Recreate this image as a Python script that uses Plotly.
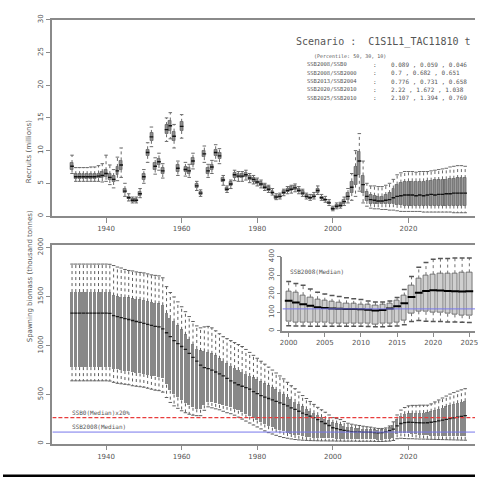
import plotly.graph_objects as go

# ---------------------------------------------------------------------------
# Data: stock assessment / projection boxplot summaries, 1931-2035
# ---------------------------------------------------------------------------
years = list(range(1931, 2036))

# Recruits (millions): median, quartiles and whisker ends per year
rec_med = [7.6, 6.0, 6.0, 6.0, 6.0, 6.0, 6.0, 6.1, 6.2, 6.5,
           5.9, 5.6, 6.9, 7.8, 3.8, 2.8, 2.4, 2.4, 3.4, 6.0,
           9.7, 12.1, 7.6, 8.3, 6.9, 13.2, 13.8, 12.2, 7.3, 13.7,
           7.1, 6.9, 8.4, 4.6, 3.5, 9.5, 6.9, 7.5, 9.7, 9.2,
           5.5, 4.1, 4.9, 6.3, 6.1, 6.1, 6.3, 5.8, 5.6, 5.2,
           4.9, 4.4, 4.1, 3.6, 2.9, 3.0, 3.6, 3.9, 4.1, 4.3,
           3.9, 3.5, 3.0, 2.8, 3.0, 3.9, 2.8, 2.5, 2.0, 1.1,
           1.5, 1.6, 2.2, 3.0, 4.4, 6.2, 8.4, 4.8, 3.0, 2.5,
           2.4, 2.3, 2.3, 2.4, 2.5, 2.8, 3.0, 3.1, 3.2, 3.2,
           3.2, 3.1, 3.2, 3.1, 3.2, 3.3, 3.2, 3.3, 3.3, 3.4,
           3.4, 3.5, 3.5, 3.5, 3.5]
rec_q1 = [7.1, 5.7, 5.7, 5.7, 5.7, 5.7, 5.7, 5.8, 5.8, 6.0,
          5.5, 5.2, 6.3, 7.1, 3.5, 2.6, 2.2, 2.2, 3.1, 5.6,
          9.2, 11.5, 7.1, 7.8, 6.4, 12.5, 13.0, 11.5, 6.8, 13.0,
          6.7, 6.5, 7.9, 4.3, 3.3, 9.0, 6.5, 7.1, 9.2, 8.7,
          5.2, 3.9, 4.6, 5.9, 5.8, 5.8, 6.0, 5.5, 5.3, 4.9,
          4.6, 4.2, 3.9, 3.4, 2.7, 2.8, 3.4, 3.7, 3.8, 4.0,
          3.7, 3.3, 2.8, 2.6, 2.8, 3.6, 2.6, 2.3, 1.8, 1.0,
          1.3, 1.4, 1.9, 2.5, 3.5, 4.8, 6.3, 3.5, 2.3, 1.9,
          1.8, 1.8, 1.8, 1.8, 1.8, 1.8, 1.7, 1.7, 1.6, 1.6,
          1.6, 1.6, 1.6, 1.6, 1.6, 1.6, 1.6, 1.6, 1.6, 1.6,
          1.6, 1.6, 1.6, 1.6, 1.6]
rec_q3 = [8.1, 6.4, 6.4, 6.4, 6.4, 6.4, 6.4, 6.5, 6.7, 7.0,
          6.4, 6.1, 7.5, 8.5, 4.1, 3.0, 2.6, 2.6, 3.7, 6.4,
          10.2, 12.7, 8.1, 8.8, 7.4, 13.9, 14.6, 12.9, 7.8, 14.4,
          7.5, 7.3, 8.9, 4.9, 3.7, 10.0, 7.3, 7.9, 10.2, 9.7,
          5.8, 4.3, 5.2, 6.6, 6.4, 6.4, 6.6, 6.1, 5.9, 5.5,
          5.2, 4.7, 4.4, 3.9, 3.1, 3.2, 3.8, 4.2, 4.4, 4.6,
          4.2, 3.8, 3.2, 3.0, 3.3, 4.2, 3.0, 2.7, 2.2, 1.3,
          1.7, 1.8, 2.5, 3.5, 5.3, 7.6, 9.8, 6.2, 3.7, 3.2,
          3.1, 3.0, 3.0, 3.2, 3.5, 4.2, 4.8, 5.1, 5.2, 5.3,
          5.3, 5.3, 5.3, 5.3, 5.4, 5.4, 5.5, 5.5, 5.6, 5.6,
          5.7, 5.7, 5.8, 5.8, 5.8]
rec_lo = [6.5, 5.3, 5.3, 5.3, 5.3, 5.3, 5.3, 5.3, 5.2, 5.3,
          4.8, 4.3, 5.4, 5.9, 3.0, 2.3, 2.0, 2.0, 2.8, 5.0,
          8.2, 10.6, 6.4, 7.0, 5.8, 11.4, 11.8, 10.4, 6.2, 11.9,
          6.1, 5.9, 7.2, 3.9, 3.0, 8.2, 5.9, 6.5, 8.4, 8.0,
          4.7, 3.6, 4.2, 5.4, 5.3, 5.3, 5.5, 5.1, 4.9, 4.6,
          4.3, 3.9, 3.6, 3.2, 2.5, 2.6, 3.1, 3.4, 3.5, 3.7,
          3.4, 3.0, 2.6, 2.4, 2.6, 3.3, 2.4, 2.1, 1.6, 0.8,
          1.1, 1.2, 1.6, 2.0, 2.4, 3.0, 3.8, 2.0, 1.5, 1.2,
          1.1, 1.1, 1.0, 1.0, 0.9, 0.9, 0.8, 0.7, 0.7, 0.7,
          0.7, 0.7, 0.7, 0.6, 0.6, 0.6, 0.6, 0.6, 0.6, 0.6,
          0.6, 0.5, 0.5, 0.5, 0.5]
rec_hi = [9.3, 7.4, 7.4, 7.4, 7.4, 7.5, 7.5, 7.7, 8.0, 9.3,
          7.8, 7.1, 9.0, 10.4, 5.0, 3.4, 2.9, 2.9, 4.2, 7.1,
          11.2, 13.6, 8.9, 9.6, 8.0, 15.0, 15.8, 14.0, 8.4, 15.5,
          8.2, 7.9, 9.6, 5.3, 4.0, 10.7, 7.9, 8.5, 10.9, 10.3,
          6.2, 4.6, 5.5, 7.0, 6.8, 6.8, 7.0, 6.5, 6.2, 5.8,
          5.5, 5.0, 4.7, 4.2, 3.4, 3.5, 4.1, 4.5, 4.7, 4.9,
          4.5, 4.1, 3.5, 3.3, 3.6, 4.6, 3.3, 3.0, 2.5, 1.5,
          2.0, 2.1, 2.9, 4.2, 6.5, 10.0, 12.6, 8.4, 5.0, 4.6,
          4.6, 4.5, 4.5, 4.7, 5.0, 5.6, 6.3, 6.6, 6.8, 6.8,
          6.8, 6.7, 6.8, 6.8, 6.8, 6.9, 7.0, 7.1, 7.2, 7.3,
          7.5, 7.6, 7.7, 7.7, 7.6]

# Spawning biomass (thousand tonnes)
ssb_med = [1330, 1330, 1330, 1330, 1330, 1330, 1330, 1330, 1330, 1330,
           1328, 1305, 1295, 1285, 1275, 1265, 1255, 1245, 1235, 1225,
           1215, 1205, 1195, 1190, 1170, 1130, 1090, 1050, 1020, 990,
           960, 920, 880, 840, 800, 775, 765, 750, 730, 710,
           690, 665, 640, 620, 600, 585, 570, 555, 530, 510,
           490, 475, 460, 445, 430, 415, 400, 385, 365, 350,
           330, 310, 295, 280, 265, 245, 225, 205, 185, 162,
           152, 143, 135, 127, 123, 120, 119, 118, 117, 116,
           113, 110, 112, 120, 132, 148, 182, 205, 215, 218,
           217, 215, 213, 212, 213, 218, 225, 232, 240, 248,
           256, 263, 270, 278, 285]
ssb_q1 = [780, 780, 780, 780, 780, 780, 780, 780, 780, 780,
          778, 760, 755, 750, 740, 735, 725, 720, 715, 710,
          700, 690, 680, 675, 660, 600, 540, 500, 470, 440,
          410, 385, 365, 350, 345, 390, 420, 415, 405, 395,
          385, 375, 365, 350, 335, 315, 295, 275, 255, 235,
          215, 195, 178, 162, 148, 134, 120, 108, 98, 88,
          80, 72, 66, 61, 57, 54, 51, 50, 49, 48,
          46, 45, 44, 43, 42, 41, 40, 40, 39, 39,
          38, 36, 37, 40, 45, 56, 95, 105, 102, 100,
          98, 92, 88, 84, 80, 78, 76, 75, 74, 73,
          72, 72, 71, 71, 70]
ssb_q3 = [1545, 1545, 1545, 1545, 1545, 1545, 1545, 1545, 1545, 1545,
          1542, 1510, 1500, 1495, 1490, 1485, 1475, 1470, 1465, 1460,
          1450, 1440, 1430, 1425, 1410, 1330, 1280, 1245, 1200, 1160,
          1110, 1060, 1010, 965, 945, 940, 930, 915, 895, 865,
          840, 815, 790, 770, 750, 730, 710, 690, 670, 650,
          630, 610, 590, 570, 548, 525, 500, 475, 450, 425,
          400, 375, 350, 330, 310, 290, 270, 250, 232, 213,
          205, 192, 180, 170, 162, 156, 152, 148, 145, 142,
          140, 138, 140, 148, 165, 190, 245, 282, 300, 305,
          308, 308, 310, 312, 315, 325, 338, 350, 362, 375,
          388, 400, 412, 422, 432]
ssb_lo = [640, 640, 640, 640, 640, 640, 640, 640, 640, 640,
          638, 625, 615, 610, 605, 600, 590, 585, 580, 575,
          565, 555, 545, 540, 525, 470, 420, 385, 360, 335,
          315, 300, 290, 285, 285, 340, 375, 365, 355, 345,
          330, 315, 305, 290, 270, 250, 230, 210, 190, 170,
          150, 130, 112, 98, 85, 72, 62, 55, 48, 42,
          38, 35, 33, 31, 30, 29, 28, 28, 27, 27,
          26, 26, 25, 25, 25, 25, 24, 24, 24, 24,
          23, 22, 22, 24, 26, 32, 50, 55, 52, 50,
          50, 48, 47, 46, 45, 44, 43, 42, 41, 40,
          39, 38, 37, 36, 35]
ssb_hi = [1830, 1830, 1830, 1830, 1830, 1830, 1830, 1830, 1830, 1830,
          1828, 1815, 1800, 1790, 1775, 1765, 1760, 1750, 1745, 1740,
          1730, 1720, 1715, 1710, 1690, 1600, 1540, 1495, 1445, 1395,
          1345, 1295, 1245, 1200, 1180, 1190, 1195, 1180, 1150, 1120,
          1090, 1070, 1050, 1030, 1010, 990, 960, 930, 900, 870,
          840, 810, 780, 750, 720, 690, 660, 625, 590, 560,
          525, 490, 460, 430, 400, 370, 345, 320, 292, 265,
          255, 245, 225, 208, 198, 190, 185, 178, 172, 168,
          160, 155, 155, 160, 180, 222, 292, 342, 368, 385,
          390, 390, 392, 392, 392, 405, 425, 445, 465, 485,
          505, 520, 535, 548, 560]

x_ticks = [1940, 1960, 1980, 2000, 2020]
rec_ticks = [0, 5, 10, 15, 20, 25, 30]
ssb_ticks = [0, 500, 1000, 1500, 2000]
inset_years = (2000, 2025)
inset_xticks = [2000, 2005, 2010, 2015, 2020, 2025]
inset_yticks = [0, 100, 200, 300, 400]

scenario = "Scenario :  C1S1L1_TAC11810 t"
percentile_note = "(Percentile: 50, 30, 10)"
ratio_labels = ["SSB2008/SSB0", "SSB2008/SSB2000", "SSB2013/SSB2004",
                "SSB2020/SSB2010", "SSB2025/SSB2010"]
ratio_values = ["0.089 , 0.059 , 0.046", "0.7 , 0.682 , 0.651",
                "0.776 , 0.731 , 0.658", "2.22 , 1.672 , 1.038",
                "2.107 , 1.394 , 0.769"]

# Reference levels derived from the medians
ssb0 = ssb_med[0]
limit_ref = ssb0 * 0.20
ssb2008 = ssb_med[years.index(2008)]

# ---------------------------------------------------------------------------
# Page geometry (pixels on a 478 x 478 canvas)
# ---------------------------------------------------------------------------
W = H = 478
def fx(px):
    return px / W
def fy(py):
    return 1 - py / H

PLOT_L = 50
TOP_T, TOP_B = 12, 212
BOT_T, BOT_B = 242, 444
INS_L, INS_T, INS_B = 283, 253.3, 329
x_range = [1925.8, 2037.6]
ssb_range = [0, 2020]
ins_xrange = [1999.14, 2025.78]
ins_yrange = [0, 400]

AX_COL = "#8a8a8a"
TXT_COL = "#555555"
FONT = "DejaVu Sans"
MONO = "DejaVu Sans Mono"
RED = "#e83c3c"
BLUE = "#7878eb"

fig = go.Figure()


def add_boxes(xs, q1, med, q3, lo, hi, xa, ya, width, fill, outline, ow,
              wcol, med_size, med_w, med_col, staple_size, staple_w, staple_col):
    fig.add_trace(go.Bar(
        x=xs, y=[b - a for a, b in zip(q1, q3)], base=q1, width=width,
        marker=dict(color=fill, line=dict(color=outline, width=ow)),
        xaxis=xa, yaxis=ya, showlegend=False, hoverinfo="skip"))
    wx, wy = [], []
    for x, a, b, l, h in zip(xs, q1, q3, lo, hi):
        wx += [x, x, None, x, x, None]
        wy += [b, h, None, a, l, None]
    fig.add_trace(go.Scatter(
        x=wx, y=wy, mode="lines",
        line=dict(color=wcol, width=1, dash="dot"),
        xaxis=xa, yaxis=ya, showlegend=False, hoverinfo="skip"))
    fig.add_trace(go.Scatter(
        x=list(xs) + list(xs), y=list(hi) + list(lo), mode="markers",
        marker=dict(symbol="line-ew", size=staple_size,
                    line=dict(width=staple_w, color=staple_col)),
        xaxis=xa, yaxis=ya, showlegend=False, hoverinfo="skip"))
    fig.add_trace(go.Scatter(
        x=xs, y=med, mode="markers",
        marker=dict(symbol="line-ew", size=med_size,
                    line=dict(width=med_w, color=med_col)),
        xaxis=xa, yaxis=ya, showlegend=False, hoverinfo="skip"))


# Recruits panel
add_boxes(years, rec_q1, rec_med, rec_q3, rec_lo, rec_hi, "x", "y",
          0.78, "#8d8d8d", "#4a4a4a", 0.6, "#6a6a6a",
          2.6, 1.4, "#111111", 2.5, 1, "#6a6a6a")

# Spawning biomass panel
add_boxes(years, ssb_q1, ssb_med, ssb_q3, ssb_lo, ssb_hi, "x2", "y2",
          0.8, "#888888", "#888888", 0, "#5e5e5e",
          2.4, 1.3, "#1a1a1a", 2.5, 1, "#5e5e5e")

# Reference levels: 20% of SSB0 (dashed red) and SSB in 2008 (blue)
fig.add_trace(go.Scatter(
    x=x_range, y=[limit_ref, limit_ref], mode="lines",
    line=dict(color=RED, width=1.3, dash="4px,2px"),
    xaxis="x2", yaxis="y2", showlegend=False, hoverinfo="skip"))
fig.add_trace(go.Scatter(
    x=x_range, y=[ssb2008, ssb2008], mode="lines",
    line=dict(color=BLUE, width=1),
    xaxis="x2", yaxis="y2", showlegend=False, hoverinfo="skip"))

# White backing for the inset panel (computed from its pixel box)
def x2_at(px):
    return x_range[0] + (px - PLOT_L) / (W - PLOT_L) * (x_range[1] - x_range[0])
def y2_at(py):
    return ssb_range[0] + (BOT_B - py) / (BOT_B - BOT_T) * (ssb_range[1] - ssb_range[0])
mx0, mx1 = x2_at(252), x2_at(W + 2)
my0, my1 = y2_at(346), y2_at(BOT_T + 1)
fig.add_trace(go.Scatter(
    x=[mx0, mx1, mx1, mx0, mx0], y=[my0, my0, my1, my1, my0],
    mode="lines", fill="toself", fillcolor="white", line=dict(width=0),
    xaxis="x2", yaxis="y2", showlegend=False, hoverinfo="skip"))

# Inset: 2000-2025 detail of the spawning biomass
sel = [i for i, y in enumerate(years) if inset_years[0] <= y <= inset_years[1]]
pick = lambda arr: [arr[i] for i in sel]
add_boxes(pick(years), pick(ssb_q1), pick(ssb_med), pick(ssb_q3),
          pick(ssb_lo), pick(ssb_hi), "x3", "y3",
          0.72, "#cfcfcf", "#5a5a5a", 0.8, "#707070",
          5.5, 2, "black", 3.5, 1.5, "#555555")
fig.add_trace(go.Scatter(
    x=ins_xrange, y=[ssb2008, ssb2008], mode="lines",
    line=dict(color=BLUE, width=1),
    xaxis="x3", yaxis="y3", showlegend=False, hoverinfo="skip"))

# ---------------------------------------------------------------------------
# Axes
# ---------------------------------------------------------------------------
tick_font = dict(family=FONT, size=7, color=TXT_COL)
common_x = dict(showgrid=False, zeroline=False, showline=True, linecolor=AX_COL,
                linewidth=1.5, ticks="outside", ticklen=5, tickwidth=1,
                tickcolor=AX_COL, tickfont=tick_font, tickmode="array",
                ticklabeloverflow="allow")
common_y = dict(showgrid=False, zeroline=False, showline=True, linecolor=AX_COL,
                linewidth=1.5, ticks="outside", ticklen=5, tickwidth=1,
                tickcolor=AX_COL, tickfont=tick_font, tickmode="array",
                tickangle=-90)

fig.update_layout(
    width=W, height=H, margin=dict(l=0, r=0, t=0, b=0),
    paper_bgcolor="white", plot_bgcolor="rgba(0,0,0,0)",
    bargap=0, showlegend=False,
    xaxis=dict(common_x, domain=[fx(PLOT_L), 1], range=x_range,
               tickvals=x_ticks, mirror=True, anchor="y"),
    yaxis=dict(common_y, domain=[fy(TOP_B), fy(TOP_T)], range=[0, 30],
               tickvals=rec_ticks, anchor="x"),
    xaxis2=dict(common_x, domain=[fx(PLOT_L), 1], range=x_range,
                tickvals=x_ticks, mirror=True, anchor="y2"),
    yaxis2=dict(common_y, domain=[fy(BOT_B), fy(BOT_T)], range=ssb_range,
                tickvals=ssb_ticks, anchor="x2"),
    xaxis3=dict(common_x, domain=[fx(INS_L), 1], range=ins_xrange,
                tickvals=inset_xticks, ticklen=4, anchor="y3"),
    yaxis3=dict(common_y, domain=[fy(INS_B), fy(INS_T)], range=ins_yrange,
                tickvals=inset_yticks, ticklen=4, anchor="x3"),
)

# ---------------------------------------------------------------------------
# Text
# ---------------------------------------------------------------------------
ann = []
ann.append(dict(text="Recruits (millions)", x=fx(21), y=fy((TOP_T + TOP_B) / 2),
                xref="paper", yref="paper", textangle=-90, showarrow=False,
                font=dict(family=FONT, size=7, color=TXT_COL)))
ann.append(dict(text="Spawning biomass (thousand tonnes)", x=fx(21),
                y=fy((BOT_T + BOT_B) / 2), xref="paper", yref="paper",
                textangle=-90, showarrow=False,
                font=dict(family=FONT, size=7, color=TXT_COL)))
ann.append(dict(text=scenario, x=fx(295), y=fy(35), xref="paper", yref="paper",
                xanchor="left", yanchor="middle", showarrow=False,
                font=dict(family=MONO, size=10, color=TXT_COL)))
ann.append(dict(text=percentile_note, x=fx(313), y=fy(49), xref="paper",
                yref="paper", xanchor="left", yanchor="middle", showarrow=False,
                font=dict(family=MONO, size=5, color=TXT_COL)))
for i, (lab, val) in enumerate(zip(ratio_labels, ratio_values)):
    row_y = fy(57.5 + 8.5 * i)
    ann.append(dict(text=lab, x=fx(306), y=row_y, xref="paper", yref="paper",
                    xanchor="left", yanchor="middle", showarrow=False,
                    font=dict(family=MONO, size=5.5, color=TXT_COL)))
    ann.append(dict(text=":", x=fx(373), y=row_y, xref="paper", yref="paper",
                    xanchor="left", yanchor="middle", showarrow=False,
                    font=dict(family=MONO, size=6, color=TXT_COL)))
    ann.append(dict(text=val, x=fx(391), y=row_y, xref="paper", yref="paper",
                    xanchor="left", yanchor="middle", showarrow=False,
                    font=dict(family=MONO, size=6, color=TXT_COL)))
ann.append(dict(text="SSB0(Median)x20%", x=years[0] - 0.5, y=limit_ref,
                xref="x2", yref="y2", xanchor="left", yanchor="bottom",
                showarrow=False,
                font=dict(family=MONO, size=6, color=TXT_COL)))
ann.append(dict(text="SSB2008(Median)", x=years[0] - 0.5, y=ssb2008,
                xref="x2", yref="y2", xanchor="left", yanchor="bottom",
                showarrow=False,
                font=dict(family=MONO, size=6, color=TXT_COL)))
ann.append(dict(text="SSB2008(Median)", x=inset_years[0] - 0.1, y=317,
                xref="x3", yref="y3", xanchor="left", yanchor="middle",
                showarrow=False,
                font=dict(family=MONO, size=6, color=TXT_COL)))
fig.update_layout(annotations=ann)

# Dark strip along the bottom edge of the page
fig.add_shape(type="rect", xref="paper", yref="paper", x0=0, x1=1,
              y0=0, y1=2.5 / H, fillcolor="black", line=dict(width=0))

fig.write_html("out.html")
